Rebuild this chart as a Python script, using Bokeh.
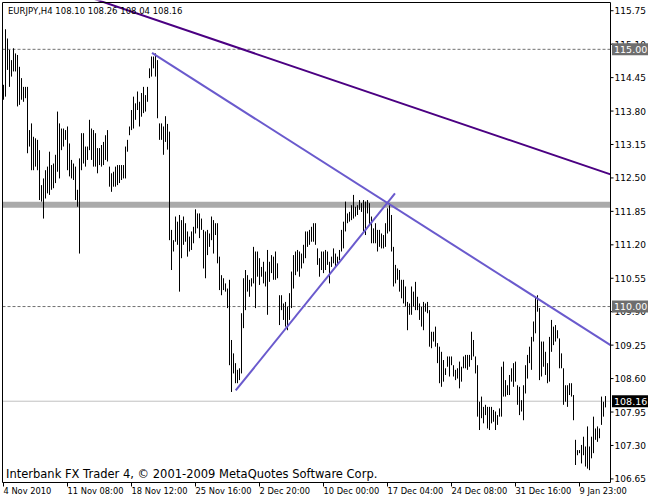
from bokeh.plotting import figure
from bokeh.models import Range1d, Label, ColumnDataSource
from bokeh.embed import file_html
from bokeh.resources import INLINE
from bokeh.core.properties import value

symbol = "EURJPY,H4"
last_ohlc = [108.10, 108.26, 108.04, 108.16]

high_a = [114.31, 115.39, 115.21, 114.99, 114.79, 115.02, 114.92, 114.89, 114.66, 114.44,
          114.27, 114.27, 114.27, 113.43, 113.56, 113.30, 113.27, 113.24, 113.04, 112.36,
          112.49, 112.65, 112.72, 113.01, 112.75, 112.78, 112.95, 113.79, 113.56, 113.46,
          113.46, 113.43, 113.50, 113.17, 112.85, 112.78, 112.72, 112.27, 112.88, 113.37,
          113.37, 113.11, 113.11, 113.63, 113.46, 113.43, 113.37, 113.08, 113.08, 113.14,
          113.20, 113.33, 113.43, 112.72, 112.59, 112.62, 112.72, 112.75, 112.75, 112.75,
          112.75, 113.11, 113.24, 113.50, 113.82, 114.08, 113.95, 114.18, 113.98, 114.15,
          114.27, 114.11, 114.27, 114.63, 114.86, 114.86, 114.92, 114.79, 113.56, 113.56,
          113.50, 113.70, 113.55]
low_a = [114.02, 114.08, 114.60, 114.27, 114.47, 114.57, 114.57, 113.89, 113.92, 114.02,
         113.98, 114.05, 112.98, 113.11, 112.65, 112.65, 112.72, 112.65, 112.07, 112.04,
         111.71, 112.10, 112.20, 112.17, 112.27, 112.30, 112.40, 112.62, 112.49, 113.04,
         113.11, 113.24, 112.65, 112.53, 112.49, 112.46, 112.07, 111.94, 111.03, 112.65,
         112.78, 112.72, 112.85, 113.04, 112.85, 112.72, 112.72, 112.59, 112.75, 112.72,
         112.75, 112.85, 112.82, 112.33, 112.23, 112.33, 112.33, 112.36, 112.40, 112.46,
         112.49, 112.49, 113.01, 113.33, 113.43, 113.46, 113.63, 113.82, 113.50, 113.69,
         113.76, 113.79, 113.98, 114.44, 114.47, 114.63, 114.47, 113.66, 113.24, 113.24,
         112.95, 113.20, 113.05]

high_b = [113.40, 111.49, 111.29, 111.75, 111.65, 111.78, 111.68, 111.75, 111.62, 111.46,
          111.36, 111.46, 111.55, 111.89, 111.81, 111.81, 111.71, 111.49, 111.46, 111.49,
          111.42, 111.75, 111.68, 111.62, 111.62, 110.97, 110.61, 110.55, 110.45, 110.35,
          110.52, 109.35, 109.09, 108.90, 108.77, 108.80, 109.87, 110.55, 110.71, 110.61,
          110.52, 110.55, 111.16, 111.07, 111.07, 110.94, 110.77, 110.87, 110.68, 111.10,
          110.87, 111.00, 110.97, 111.07, 110.84, 110.22, 110.22, 110.06, 110.09, 110.00,
          110.26, 110.68, 111.00, 111.07, 111.10, 111.07, 111.03, 111.20, 111.46, 111.46,
          111.49, 111.55, 111.62, 111.62, 111.13, 110.94]
low_b = [111.29, 110.71, 111.07, 111.26, 111.20, 110.29, 110.94, 111.20, 111.26, 110.97,
         111.07, 111.10, 111.23, 111.42, 111.52, 111.33, 111.49, 110.74, 110.55, 111.00,
         111.16, 111.29, 111.03, 111.39, 110.84, 110.32, 110.22, 110.32, 110.29, 109.97,
         108.86, 108.34, 108.70, 108.51, 108.51, 108.57, 108.70, 109.58, 109.93, 110.29,
         110.19, 110.39, 110.45, 109.97, 110.58, 110.42, 110.58, 110.45, 110.39, 109.84,
         110.48, 110.65, 110.52, 110.52, 110.55, 109.64, 109.93, 109.74, 109.61, 109.54,
         109.74, 109.97, 110.35, 110.61, 110.68, 110.58, 110.74, 110.84, 110.94, 111.16,
         111.20, 111.26, 111.26, 111.20, 110.81, 110.58]

high_c = [111.07, 111.07, 111.10, 111.07, 110.87, 110.97, 111.13, 111.03, 110.97, 111.10,
          111.49, 111.65, 112.04, 111.81, 111.84, 111.97, 112.17, 111.94, 111.97, 112.07,
          112.01, 112.07, 112.04, 112.07, 112.01, 111.75, 111.52, 111.62, 111.49, 111.49,
          111.42, 111.39, 111.62, 111.91, 112.01, 111.78, 111.16, 110.81, 110.74, 110.71,
          110.52, 110.52, 110.39, 110.09, 110.06, 110.39, 110.29, 110.48, 110.19, 110.06,
          110.00, 110.09, 110.06, 110.09, 109.93, 109.51, 109.51, 109.61, 109.29, 109.22,
          109.12, 108.96, 108.80, 109.03, 109.03, 109.03, 108.86, 108.77, 108.80, 108.93,
          108.83, 109.03, 109.06, 109.06, 109.06, 109.51]
low_c = [110.71, 110.65, 110.71, 110.81, 110.45, 110.77, 110.84, 110.77, 110.81, 110.90,
         111.07, 111.13, 111.46, 111.62, 111.65, 111.68, 111.71, 111.75, 111.78, 111.88,
         111.84, 111.46, 111.39, 111.81, 111.59, 111.23, 111.23, 111.23, 111.07, 111.16,
         111.13, 111.13, 111.16, 111.42, 111.46, 111.07, 110.39, 110.45, 110.52, 110.29,
         110.16, 110.06, 110.00, 109.54, 109.84, 109.84, 110.00, 109.93, 109.93, 109.74,
         109.61, 109.54, 109.90, 109.87, 109.22, 109.19, 109.32, 109.22, 108.90, 108.51,
         108.44, 108.54, 108.67, 108.83, 108.64, 108.86, 108.64, 108.57, 108.60, 108.41,
         108.54, 108.80, 108.80, 108.77, 108.83, 108.96]

high_d = [109.35, 109.03, 108.86, 108.15, 108.25, 108.05, 108.09, 108.05, 108.05, 108.05,
          107.99, 107.96, 107.89, 108.02, 108.83, 108.93, 108.57, 108.47, 108.67, 108.80,
          108.90, 108.93, 108.47, 108.44, 108.18, 108.47, 108.86, 109.06, 109.22, 109.41,
          109.71, 110.19, 110.22, 109.97, 109.32, 109.32, 109.12, 108.90, 109.41, 109.74,
          109.61, 109.64, 109.54, 109.38, 109.09, 108.80, 108.47, 108.47, 108.51, 108.51,
          108.28, 107.41, 107.21, 107.21, 107.31, 107.47, 107.28, 107.67, 107.28, 107.47,
          107.86, 107.63, 107.67, 107.63, 108.25, 108.15, 108.26]
low_d = [109.03, 108.70, 107.86, 107.60, 107.83, 107.73, 107.89, 107.63, 107.60, 107.73,
         107.76, 107.60, 107.70, 107.86, 107.86, 108.25, 108.25, 108.28, 108.28, 108.54,
         108.44, 108.54, 108.09, 107.89, 107.96, 107.79, 108.31, 108.60, 108.90, 108.77,
         109.32, 109.48, 109.90, 108.57, 108.64, 108.83, 108.67, 108.51, 108.54, 109.12,
         109.25, 109.32, 109.38, 108.80, 108.80, 108.09, 108.15, 108.05, 108.28, 108.25,
         107.79, 106.92, 107.11, 107.15, 106.95, 107.11, 106.89, 106.85, 106.82, 107.05,
         107.15, 107.41, 107.37, 107.44, 107.70, 107.86, 108.04]

tick_bars = [0, 32, 64, 96, 128, 160, 192, 224, 256, 288]
tick_labels = ["4 Nov 2010", "11 Nov 08:00", "18 Nov 12:00", "25 Nov 16:00", "2 Dec 20:00",
               "10 Dec 00:00", "17 Dec 04:00", "24 Dec 08:00", "31 Dec 16:00", "9 Jan 23:00"]
price_ticks = [106.65, 107.30, 107.95, 108.60, 109.25, 109.90, 110.55, 111.20, 111.85,
               112.50, 113.15, 113.80, 114.45, 115.10, 115.75]

band_level = [111.98]
dashed_levels = [115.00, 110.00]
bid_level = [108.16]

outer_x = [40.0, 303.5]
outer_y = [116.05, 112.57]
mid_x = [74.25, 303.5]
mid_y = [114.93, 109.25]
rise_x = [116.1, 195.75]
rise_y = [108.37, 112.20]

high = high_a + high_b + high_c + high_d
low = low_a + low_b + low_c + low_d
src = ColumnDataSource(dict(i=list(range(len(high))), high=high, low=low))

FONT = "DejaVu Sans"
X0, X1 = -0.5, 303.5        # chart window (bars)
Y0, Y1 = 106.58, 115.91     # chart window (price)

FIG_W, FIG_H = 648, 498
LEFT, TOP = 2.0, 2.0         # chart window corner in the canvas (half-pixel aligned by the renderer)
CHART_W, CHART_H = 608, 480  # pixel size of the chart window
ppb = CHART_W / (X1 - X0)    # pixels per bar
ppp = CHART_H / (Y1 - Y0)    # pixels per price unit
xs = X0 - LEFT / ppb
xe = xs + FIG_W / ppb
ye = Y1 + TOP / ppp
ys = ye - FIG_H / ppp

p = figure(width=FIG_W, height=FIG_H, output_backend="svg", toolbar_location=None,
           x_range=Range1d(xs, xe), y_range=Range1d(ys, ye),
           x_axis_location=None, y_axis_location=None,
           min_border_left=0, min_border_top=0, min_border_right=0, min_border_bottom=0)
p.background_fill_color = "white"
p.border_fill_color = "white"
p.outline_line_color = None
p.grid.visible = False

# background objects of the chart window
p.segment(x0=X0, x1=X1, y0=band_level, y1=band_level, line_color="#aaaaaa", line_width=6)
p.segment(x0=X0, x1=X1, y0=dashed_levels, y1=dashed_levels, line_color="#707070",
          line_width=1, line_dash="3 2")
p.segment(x0=X0, x1=X1, y0=bid_level, y1=bid_level, line_color="#c0c0c0", line_width=1)

# bars (high-low)
p.segment(x0="i", y0="low", x1="i", y1="high", source=src, line_color="black", line_width=1)

# trend lines
p.line(outer_x, outer_y, line_color="#4b0082", line_width=2)
p.line(mid_x, mid_y, line_color="#6a5acd", line_width=2)
p.line(rise_x, rise_y, line_color="#6a5acd", line_width=2)

# chart window border
p.line([X0, X0, X1, X1, X0], [Y0, Y1, Y1, Y0, Y0], line_color="black", line_width=1)

# time scale below the chart window (labels start at their tick)
p.segment(x0=tick_bars, x1=tick_bars, y0=Y0, y1=Y0 - 4 / ppp, line_color="black", line_width=1)
p.text(x=tick_bars, y=Y0 - 8.5 / ppp, text=tick_labels, text_font=value(FONT),
       text_font_size="8.3px", text_color="black", text_align="left", text_baseline="middle")

# price scale on the right of the chart window
p.segment(x0=X1, x1=X1 + 3 / ppb, y0=price_ticks, y1=price_ticks, line_color="black", line_width=1)
p.text(x=X1 + 4 / ppb, y=price_ticks, text=["%.2f" % v for v in price_ticks],
       text_font=value(FONT), text_font_size="9px", text_color="black",
       text_align="left", text_baseline="middle")
box_levels = dashed_levels + bid_level
box_colors = ["#6e6e6e", "#6e6e6e", "black"]
p.rect(x=X1 + 19.5 / ppb, y=box_levels, width=36, height=12, width_units="screen",
       height_units="screen", fill_color=box_colors, line_color=None)
p.text(x=X1 + 3.5 / ppb, y=box_levels, text=["%.2f" % v for v in box_levels],
       text_font=value(FONT), text_font_size="9.5px", text_color="white",
       text_align="left", text_baseline="middle")

# texts in the chart window
title = "%s  %.2f %.2f %.2f %.2f" % (symbol, *last_ohlc)
p.add_layout(Label(x=X0, y=Y1, x_offset=5.5, y_offset=-8.5, text=title, text_font=FONT,
                   text_font_size="8.5px", text_color="black", text_baseline="middle"))
p.add_layout(Label(x=X0, y=Y0, x_offset=3.5, y_offset=2,
                   text="Interbank FX Trader 4, \u00a9 2001-2009 MetaQuotes Software Corp.",
                   text_font=FONT, text_font_size="11.5px", text_color="black",
                   text_baseline="bottom"))

open("out.html", "w").write(file_html(p, INLINE))
